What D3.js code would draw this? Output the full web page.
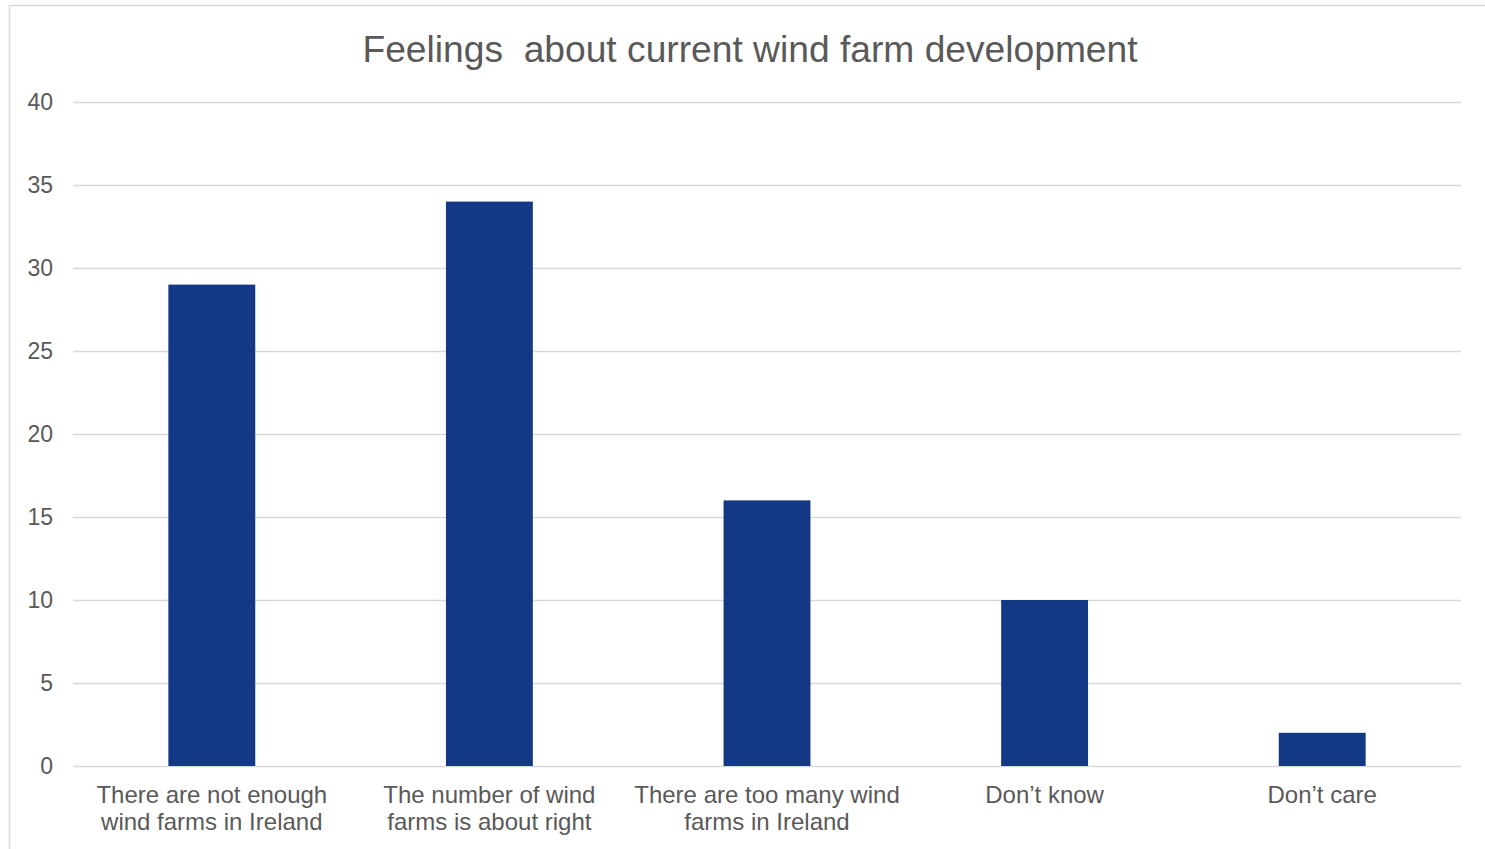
<!DOCTYPE html>
<html>
<head>
<meta charset="utf-8">
<script src="https://cdn.jsdelivr.net/npm/d3@7"></script>
<style>
  html, body { margin: 0; padding: 0; background: #fff; }
  svg { display: block; font-family: "Liberation Sans", Arial, sans-serif; }
</style>
</head>
<body>
<svg id="chart" width="1485" height="849"></svg>
<script>
// Survey responses (%)
const categories = [
  ["There are not enough", "wind farms in Ireland"],
  ["The number of wind", "farms is about right"],
  ["There are too many wind", "farms in Ireland"],
  ["Don\u2019t know"],
  ["Don\u2019t care"]
];
const values = [29, 34, 16, 10, 2];
const yTicks = [0, 5, 10, 15, 20, 25, 30, 35, 40];
const titleText = "Feelings\u00a0 about current wind farm development";

const svg = d3.select("#chart");
const W = 1485, H = 849;
const margin = { left: 73, right: 24, top: 102, bottom: 83 };

// chart frame (extends past the right and bottom edges)
svg.append("rect")
  .attr("x", 9.5).attr("y", 5.5)
  .attr("width", W + 20).attr("height", H)
  .attr("fill", "#fff").attr("stroke", "#d9d9d9").attr("stroke-width", 1.5);

const x = d3.scaleBand()
  .domain(d3.range(categories.length))
  .range([margin.left, W - margin.right])
  .paddingInner(0.687).paddingOuter(0.3435);

const y = d3.scaleLinear().domain([0, 40]).range([H - margin.bottom, margin.top]);

// gridlines
svg.append("g").selectAll("line").data(yTicks).join("line")
  .attr("x1", margin.left).attr("x2", W - margin.right)
  .attr("y1", d => Math.round(y(d)) + 0.5).attr("y2", d => Math.round(y(d)) + 0.5)
  .attr("stroke", "#d9d9d9").attr("stroke-width", 1.5);

// y axis labels
const yAxis = d3.axisLeft(y).tickValues(yTicks).tickSize(0).tickPadding(0);
const gy = svg.append("g").attr("transform", `translate(${margin.left - 20},0)`).call(yAxis);
gy.select(".domain").remove();
gy.selectAll("text")
  .attr("font-family", "Liberation Sans, Arial, sans-serif")
  .attr("font-size", 23).attr("fill", "#595959");

// bars
svg.append("g").selectAll("rect").data(values).join("rect")
  .attr("x", (d, i) => x(i))
  .attr("width", x.bandwidth())
  .attr("y", d => y(d))
  .attr("height", d => y(0) - y(d))
  .attr("fill", "#133885");

// category labels
const gx = svg.append("g").selectAll("text").data(categories).join("text")
  .attr("x", (d, i) => x(i) + x.bandwidth() / 2)
  .attr("y", y(0) + 37)
  .attr("text-anchor", "middle")
  .attr("font-size", 24).attr("fill", "#595959");
gx.selectAll("tspan").data(d => d).join("tspan")
  .attr("x", function () { return this.parentNode.getAttribute("x"); })
  .attr("dy", (d, i) => i === 0 ? 0 : 27)
  .text(d => d);

// title
svg.append("text")
  .attr("x", 750).attr("y", 62)
  .attr("text-anchor", "middle")
  .attr("font-size", 37.2).attr("fill", "#595959")
  .text(titleText);
</script>
</body>
</html>
